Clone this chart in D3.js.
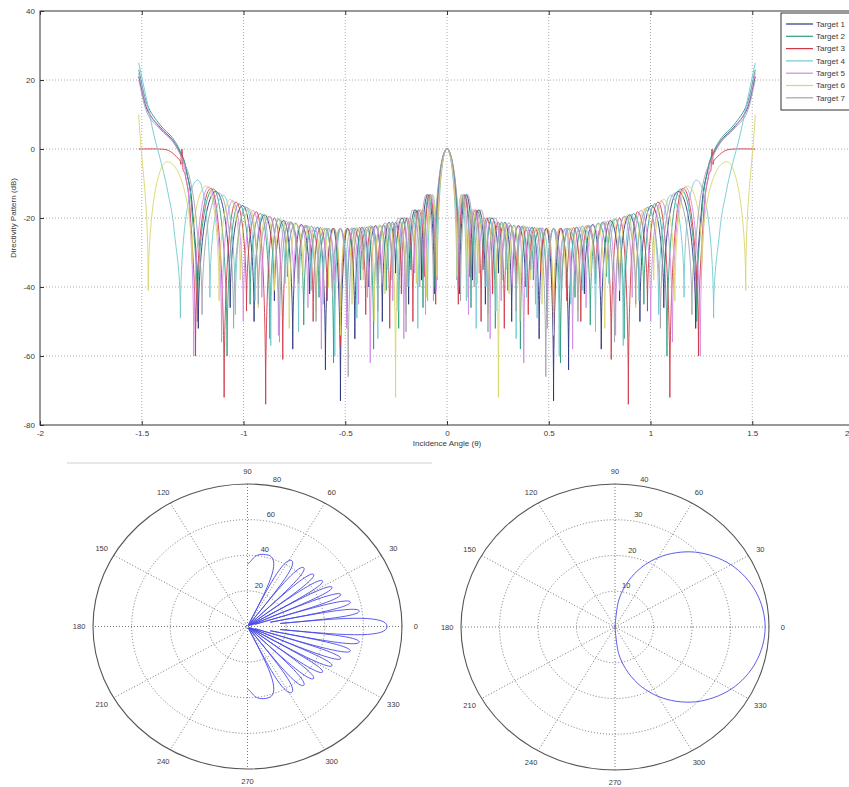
<!DOCTYPE html>
<html>
<head>
<meta charset="utf-8">
<script src="https://cdn.jsdelivr.net/npm/d3@7"></script>
<style>
  body { margin: 0; background: #fff; }
  svg { display: block; }
  text { font-family: "Liberation Sans Narrow", "Liberation Sans", Arial, sans-serif; fill: #3a3a3a; }
</style>
</head>
<body>
<svg id="fig" width="849" height="787"></svg>
<script>
// ---- data ----
var targetNames = ["Target 1", "Target 2", "Target 3", "Target 4", "Target 5", "Target 6", "Target 7"];
var targetColors = ["#2d3480", "#2f9e7e", "#d03a48", "#6fcad0", "#d38ae6", "#d9d66a", "#a2a3ad"];

var xTicks = [-2, -1.5, -1, -0.5, 0, 0.5, 1, 1.5, 2];
var yTicks = [-80, -60, -40, -20, 0, 20, 40];

// right half of each pattern [angle, dB]: nulls and lobe peaks, the plot is mirrored round 0
var target1Half = [
  [0, 0],
  [0.0625, -42], [0.0939, -13.2], [0.1253, -38], [0.1569, -17.6], [0.1886, -45], [0.2205, -20.0],
  [0.2527, -36], [0.2851, -21.3], [0.3178, -50], [0.3509, -22.2], [0.3844, -40], [0.4184, -22.7],
  [0.4528, -55], [0.488, -23.0], [0.5236, -73], [0.5601, -23.0], [0.5974, -64], [0.6357, -22.7],
  [0.6751, -42], [0.7159, -21.9], [0.758, -58], [0.8023, -20.7], [0.8481, -44], [0.8966, -19.1],
  [0.948, -50], [1.0041, -16.4], [1.0654, -46], [1.1362, -12.3], [1.222, -52],
  [1.25, -18], [1.278, -7], [1.30, -2.5], [1.346, 2.4], [1.41, 6.3], [1.474, 11.5], [1.515, 21]
];
var target2Half = [
  [0, 0],
  [0.0588, -40], [0.0883, -13.3], [0.1179, -46], [0.1476, -17.8], [0.1774, -35], [0.2074, -19.9],
  [0.2375, -52], [0.2679, -21.2], [0.2985, -41], [0.3294, -22.1], [0.3607, -58], [0.3924, -22.6],
  [0.4244, -38], [0.457, -22.9], [0.49, -47], [0.5236, -23.1], [0.5576, -62], [0.5929, -23.0],
  [0.629, -43], [0.666, -22.4], [0.7041, -51], [0.7431, -21.5], [0.7843, -37], [0.8262, -20.3],
  [0.8704, -55], [0.9168, -18.7], [0.9675, -45], [1.0224, -15.9], [1.0808, -60], [1.148, -11.6],
  [1.2265, -50],
  [1.255, -17], [1.28, -6.5], [1.30, -2.0], [1.346, 3.0], [1.41, 7], [1.474, 13], [1.515, 23]
];
var target3Half = [
  [0, 0],
  [0.0556, -45], [0.0834, -13.2], [0.1113, -37], [0.1393, -17.6], [0.1675, -50], [0.1957, -20.0],
  [0.2241, -42], [0.2527, -21.3], [0.2815, -52], [0.3106, -22.0], [0.3398, -39], [0.3695, -22.4],
  [0.3994, -48], [0.4298, -22.8], [0.4606, -36], [0.4918, -23.0], [0.5236, -57], [0.5558, -23.0],
  [0.589, -44], [0.6225, -22.8], [0.6576, -50], [0.6932, -22.2], [0.7297, -38], [0.7676, -21.2],
  [0.807, -61], [0.8481, -20.0], [0.8911, -74], [0.9363, -18.2], [0.9851, -47], [1.0376, -15.4],
  [1.0952, -72], [1.1603, -11.4], [1.2357, -60],
  [1.26, -20], [1.285, -8], [1.297, -6], [1.302, 0], [1.307, -4.5], [1.33, -2.2], [1.37, -0.4],
  [1.42, 0], [1.515, 0]
];
var target4Half = [
  [0, 0],
  [0.0476, -38], [0.0714, -13.2], [0.0953, -44], [0.1193, -17.6], [0.1434, -52], [0.1672, -19.9],
  [0.1917, -40], [0.216, -21.1], [0.2404, -47], [0.265, -21.6], [0.2898, -35], [0.3147, -22.0],
  [0.3398, -55], [0.3652, -22.4], [0.3909, -43], [0.4167, -22.7], [0.4429, -49], [0.4695, -22.9],
  [0.4965, -37], [0.5237, -23.0], [0.5514, -60], [0.5795, -23.0], [0.6082, -45], [0.6374, -22.7],
  [0.6675, -41], [0.6981, -22.1], [0.7297, -53], [0.7621, -21.2], [0.7956, -39], [0.8302, -20.2],
  [0.866, -57], [0.9036, -18.9], [0.9434, -44], [0.99, -16.8], [1.04, -48], [1.10, -13.4],
  [1.165, -43], [1.225, -9.0], [1.31, -49],
  [1.34, -24], [1.37, -13], [1.40, -5], [1.44, 4], [1.475, 14], [1.515, 25]
];
var target5Half = [
  [0, 0],
  [0.0526, -41], [0.079, -13.2], [0.1055, -48], [0.132, -17.6], [0.1586, -36], [0.1853, -20.0],
  [0.2121, -55], [0.2391, -21.2], [0.2663, -44], [0.2937, -21.8], [0.3214, -39], [0.3491, -22.2],
  [0.3773, -62], [0.4058, -22.6], [0.4347, -45], [0.4638, -22.9], [0.4935, -52], [0.5236, -23.0],
  [0.5543, -38], [0.5854, -23.0], [0.6173, -58], [0.6503, -22.6], [0.6835, -46], [0.718, -21.9],
  [0.7534, -40], [0.7902, -20.9], [0.8284, -54], [0.8683, -19.6], [0.91, -43], [0.954, -17.8],
  [1.0011, -50], [1.053, -15.0], [1.1078, -56], [1.1705, -11.0], [1.2445, -60],
  [1.265, -18], [1.285, -7.5], [1.30, -3], [1.346, 2.2], [1.41, 6], [1.474, 12], [1.515, 22]
];
var target6Half = [
  [0, 0],
  [0.05, -37], [0.0751, -13.2], [0.1002, -43], [0.1253, -17.6], [0.1506, -39], [0.1759, -20.0],
  [0.2014, -48], [0.2269, -21.2], [0.2527, -72], [0.2786, -21.6], [0.3047, -42], [0.3311, -22.0],
  [0.3576, -50], [0.3844, -22.4], [0.4115, -38], [0.439, -22.8], [0.4668, -45], [0.4949, -23.0],
  [0.5236, -54], [0.5527, -23.0], [0.5824, -40], [0.6126, -22.9], [0.6435, -47], [0.6751, -22.5],
  [0.7076, -36], [0.741, -21.7], [0.7754, -52], [0.811, -20.5], [0.8481, -41], [0.8868, -19.2],
  [0.9273, -46], [0.9704, -17.3], [1.016, -38], [1.0654, -14.6], [1.1198, -44], [1.1815, -10.7],
  [1.2532, -33], [1.375, -3.7], [1.468, -41], [1.515, 10]
];
var target7Half = [
  [0, 0],
  [0.0667, -44], [0.1002, -13.2], [0.1337, -40], [0.1675, -17.6], [0.2014, -53], [0.2355, -20.0],
  [0.2699, -38], [0.3047, -21.4], [0.3398, -47], [0.3754, -22.3], [0.4115, -35], [0.4482, -22.9],
  [0.4855, -66], [0.5236, -23.0], [0.5625, -43], [0.6024, -23.0], [0.6435, -50], [0.6857, -22.2],
  [0.7297, -39], [0.7754, -21.1], [0.8232, -56], [0.8737, -19.5], [0.9273, -45], [0.9851, -16.9],
  [1.0487, -52], [1.1198, -12.8], [1.2036, -48],
  [1.23, -22], [1.262, -9], [1.30, -3], [1.346, 2], [1.41, 5.8], [1.474, 10.5], [1.515, 20]
];

// left polar: beam pattern, upper half [deg, r]
var beamHalf = [
  [0, 72.3], [5.7, 17], [8.6, 58.5], [11.5, 12], [14.5, 55], [17.5, 4], [20.5, 51.5], [23.6, 2],
  [26.7, 49], [30, 1.5], [33.4, 46.5], [36.9, 1], [40.5, 45], [44.4, 1], [48.6, 44], [53.1, 1],
  [58.2, 43.5], [64.2, 1], [75, 41.5], [90, 35]
];
var beamRings = [20, 40, 60, 80];

// right polar: element pattern, upper half [deg, r]
var elementHalf = [
  [0, 39], [7.5, 38.7], [15, 37.9], [22.5, 36.6], [30, 34.8], [37.5, 32.4], [45, 29.6],
  [52.5, 26.2], [60, 22.4], [67.5, 18.1], [75, 13.2], [82.5, 7.7], [90, 0]
];
var elementRings = [10, 20, 30, 40];

var polarAngleLabels = [0, 30, 60, 90, 120, 150, 180, 210, 240, 270, 300, 330];

function mirror(half) {
  var left = half.slice(1).map(function (d) { return [-d[0], d[1]]; }).reverse();
  return left.concat(half);
}

// curve: sharp nulls, round lobe tops (d3 custom curve factory)
function kindOf(p, i) {
  if (i === 0 || i === p.length - 1) return "end";
  if (p[i][1] > p[i - 1][1] && p[i][1] > p[i + 1][1]) return "null";
  if (p[i][1] < p[i - 1][1] && p[i][1] < p[i + 1][1]) return "peak";
  return "mid";
}

function handle(p, i, j, nullK, peakK) {
  var a = p[i], b = p[j], k = kindOf(p, i);
  if (k === "null") return [a[0], a[1] + (b[1] - a[1]) * nullK];
  if (k === "peak") return [a[0] + (b[0] - a[0]) * peakK, a[1]];
  if (k === "mid") {
    var s = j > i ? 1 : -1;
    return [a[0] + s * (p[i + 1][0] - p[i - 1][0]) / 6, a[1] + s * (p[i + 1][1] - p[i - 1][1]) / 6];
  }
  return [a[0] + (b[0] - a[0]) / 3, a[1] + (b[1] - a[1]) / 3];
}

function lobeCurveWith(nullK, peakK) {
  return function (context) {
    var pts;
    return {
      areaStart: function () {},
      areaEnd: function () {},
      lineStart: function () { pts = []; },
      point: function (px, py) { pts.push([+px, +py]); },
      lineEnd: function () {
        if (!pts.length) return;
        context.moveTo(pts[0][0], pts[0][1]);
        for (var i = 0; i < pts.length - 1; i++) {
          var c1 = handle(pts, i, i + 1, nullK, peakK), c2 = handle(pts, i + 1, i, nullK, peakK);
          context.bezierCurveTo(c1[0], c1[1], c2[0], c2[1], pts[i + 1][0], pts[i + 1][1]);
        }
      }
    };
  };
}

var svg = d3.select("#fig");

// ================= top chart =================
var x = d3.scaleLinear().domain([-2, 2]).range([40, 854]);
var y = d3.scaleLinear().domain([-80, 40]).range([425, 11]);

var main = svg.append("g");

// grid
main.selectAll(".vgrid")
  .data(xTicks.slice(1, -1))
  .enter().append("line")
    .attr("x1", function (d) { return x(d); })
    .attr("x2", function (d) { return x(d); })
    .attr("y1", y(40)).attr("y2", y(-80))
    .attr("stroke", "#9a9a9a").attr("stroke-width", 0.8).attr("stroke-dasharray", "1,2");
main.selectAll(".hgrid")
  .data(yTicks.slice(1, -1))
  .enter().append("line")
    .attr("x1", x(-2)).attr("x2", x(2))
    .attr("y1", function (d) { return y(d); })
    .attr("y2", function (d) { return y(d); })
    .attr("stroke", "#9a9a9a").attr("stroke-width", 0.8).attr("stroke-dasharray", "1,2");

// pattern lines
var line = d3.line()
  .x(function (d) { return x(d[0]); })
  .y(function (d) { return y(d[1]); })
  .curve(lobeCurveWith(0.55, 0.55));

var halves = [target1Half, target2Half, target3Half, target4Half, target5Half, target6Half, target7Half];
main.selectAll(".pattern")
  .data(halves.map(mirror))
  .enter().append("path")
    .attr("d", line)
    .attr("fill", "none")
    .attr("stroke", function (d, i) { return targetColors[i]; })
    .attr("stroke-width", 0.9)
    .attr("stroke-linejoin", "round");

// axes
function styleAxis(g) {
  g.select(".domain").remove();
  g.selectAll(".tick line").attr("stroke", "#333");
  g.selectAll("text").attr("font-size", 8).attr("fill", "#3a3a3a");
  g.attr("font-family", null).attr("font-size", null);
}
var fmt = function (d) { return String(d); };

var xAxisG = main.append("g")
  .attr("transform", "translate(0," + y(-80) + ")")
  .call(d3.axisBottom(x).tickValues(xTicks).tickFormat(fmt).tickSize(-4).tickPadding(5))
  .call(styleAxis);
// the last label sits on the cropped right edge
xAxisG.selectAll(".tick text").filter(function (d) { return d === 2; })
  .attr("text-anchor", "end").attr("dx", -5);
main.append("g")
  .attr("transform", "translate(0," + y(40) + ")")
  .call(d3.axisTop(x).tickValues(xTicks).tickFormat("").tickSize(-4))
  .call(styleAxis);
main.append("g")
  .attr("transform", "translate(" + x(-2) + ",0)")
  .call(d3.axisLeft(y).tickValues(yTicks).tickFormat(fmt).tickSize(-4).tickPadding(5))
  .call(styleAxis);

main.append("rect")
  .attr("x", x(-2)).attr("y", y(40))
  .attr("width", x(2) - x(-2)).attr("height", y(-80) - y(40))
  .attr("fill", "none").attr("stroke", "#333").attr("stroke-width", 1);

main.append("text")
  .attr("x", x(0)).attr("y", 446)
  .attr("text-anchor", "middle").attr("font-size", 8)
  .text("Incidence Angle (θ)");
main.append("text")
  .attr("transform", "translate(16," + y(-20) + ") rotate(-90)")
  .attr("text-anchor", "middle").attr("font-size", 8)
  .text("Directivity Pattern (dB)");

// legend
var legend = main.append("g").attr("transform", "translate(781,13)");
legend.append("rect")
  .attr("width", 75).attr("height", 97)
  .attr("fill", "#fff").attr("stroke", "#333").attr("stroke-width", 1);
var entry = legend.selectAll(".entry")
  .data(targetNames)
  .enter().append("g")
    .attr("transform", function (d, i) { return "translate(0," + (11 + i * 12.3) + ")"; });
entry.append("line")
  .attr("x1", 5).attr("x2", 32)
  .attr("stroke", function (d, i) { return targetColors[i]; })
  .attr("stroke-width", 1.2);
entry.append("text")
  .attr("x", 35).attr("dy", "0.35em")
  .attr("font-size", 8)
  .text(function (d) { return d; });

// ================= polar charts =================
svg.append("line")
  .attr("x1", 67).attr("x2", 432).attr("y1", 463).attr("y2", 463)
  .attr("stroke", "#cfcfcf").attr("stroke-width", 1);

function drawPolar(cx, cy, rx, ry, rings, data, useLobes) {
  var rMax = rings[rings.length - 1];
  var sx = d3.scaleLinear().domain([0, rMax]).range([0, rx]);
  var sy = d3.scaleLinear().domain([0, rMax]).range([0, ry]);
  var px = function (deg, r) { return cx + sx(r) * Math.cos(deg * Math.PI / 180); };
  var py = function (deg, r) { return cy - sy(r) * Math.sin(deg * Math.PI / 180); };
  var g = svg.append("g");

  // spokes
  g.selectAll(".spoke")
    .data([0, 30, 60, 90, 120, 150])
    .enter().append("line")
      .attr("x1", function (d) { return px(d, rMax); })
      .attr("y1", function (d) { return py(d, rMax); })
      .attr("x2", function (d) { return px(d + 180, rMax); })
      .attr("y2", function (d) { return py(d + 180, rMax); })
      .attr("stroke", "#555").attr("stroke-width", 0.8).attr("stroke-dasharray", "1,2");
  // rings
  g.selectAll(".ring")
    .data(rings)
    .enter().append("ellipse")
      .attr("cx", cx).attr("cy", cy)
      .attr("rx", function (d) { return sx(d); })
      .attr("ry", function (d) { return sy(d); })
      .attr("fill", "none")
      .attr("stroke", "#555")
      .attr("stroke-width", function (d) { return d === rMax ? 1.1 : 0.8; })
      .attr("stroke-dasharray", function (d) { return d === rMax ? null : "1,2"; });

  // angle labels
  g.selectAll(".alab")
    .data(polarAngleLabels)
    .enter().append("text")
      .attr("x", function (d) { return px(d, rMax * 1.09); })
      .attr("y", function (d) { return py(d, rMax * 1.09); })
      .attr("dy", "0.35em").attr("text-anchor", "middle").attr("font-size", 7.5)
      .text(function (d) { return d; });
  // ring labels
  g.selectAll(".rlab")
    .data(rings)
    .enter().append("text")
      .attr("x", function (d) { return px(81, d + rMax * 0.045); })
      .attr("y", function (d) { return py(81, d + rMax * 0.045); })
      .attr("dy", "0.35em").attr("text-anchor", "start").attr("font-size", 7.5)
      .text(function (d) { return d; });

  var pts = mirror(data);
  var d;
  if (useLobes) {
    // run the lobe curve in (angle, r) space and map the result to the page
    var path = d3.path(), cur = [0, 0];
    var ctx = {
      moveTo: function (a, v) { cur = [a, v]; path.moveTo(px(a, -v), py(a, -v)); },
      lineTo: function (a, v) { cur = [a, v]; path.lineTo(px(a, -v), py(a, -v)); },
      closePath: function () { path.closePath(); },
      bezierCurveTo: function (a1, v1, a2, v2, a, v) {
        for (var i = 1; i <= 16; i++) {
          var s = i / 16, u = 1 - s;
          var ta = u * u * u * cur[0] + 3 * u * u * s * a1 + 3 * u * s * s * a2 + s * s * s * a;
          var tv = u * u * u * cur[1] + 3 * u * u * s * v1 + 3 * u * s * s * v2 + s * s * s * v;
          path.lineTo(px(ta, -tv), py(ta, -tv));
        }
        cur = [a, v];
      }
    };
    d3.line()
      .x(function (e) { return e[0]; })
      .y(function (e) { return -e[1]; })
      .curve(lobeCurveWith(0.7, 0.75))
      .context(ctx)(pts);
    d = path.toString();
  } else {
    d = d3.line()
      .x(function (e) { return px(e[0], e[1]); })
      .y(function (e) { return py(e[0], e[1]); })
      .curve(d3.curveCatmullRom)(pts);
  }
  g.append("path")
    .attr("d", d)
    .attr("fill", "none")
    .attr("stroke", "#4a4ae6")
    .attr("stroke-width", 0.9);
}

drawPolar(247.5, 626.5, 154.5, 142.5, beamRings, beamHalf, true);
drawPolar(615, 627, 154, 143, elementRings, elementHalf, false);
</script>
</body>
</html>
